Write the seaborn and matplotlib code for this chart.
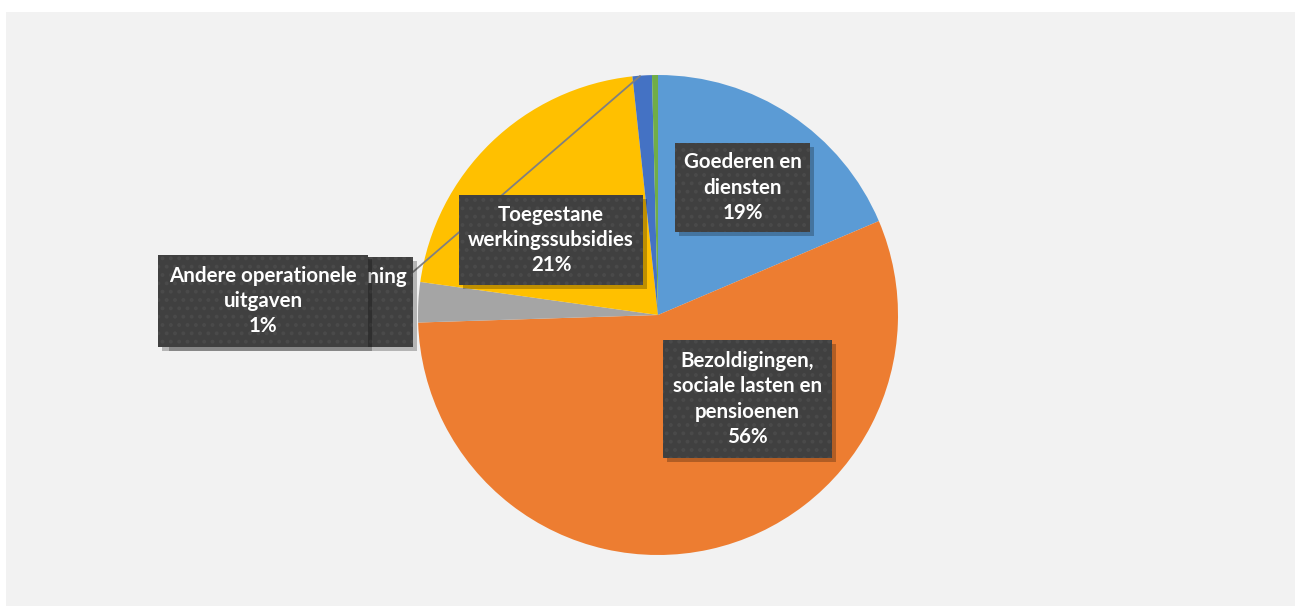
import matplotlib.pyplot as plt
import matplotlib.patches as mpatches
import seaborn as sns

sns.set_theme(style="white")
plt.rcParams['font.family'] = ['Lato', 'DejaVu Sans']
plt.rcParams['hatch.linewidth'] = 1.6

# slices, clockwise from 12 o'clock (percent)
categories = ["Goederen en diensten",
              "Bezoldigingen, sociale lasten en pensioenen",
              "Uitgaven voor rekening van derden",
              "Toegestane werkingssubsidies",
              "Andere operationele uitgaven",
              "Overige"]
values = [18.6, 55.9, 2.7, 21.1, 1.3, 0.4]
colors = ["#5B9BD5", "#ED7D31", "#A5A5A5", "#FFC000", "#4472C4", "#70AD47"]

# label text as it is wrapped in the boxes
label_lines = {
    0: "Goederen en\ndiensten",
    1: "Bezoldigingen,\nsociale lasten en\npensioenen",
    3: "Toegestane\nwerkingssubsidies",
    4: "Andere operationele\nuitgaven",
}

W, H = 1301, 612
fig = plt.figure(figsize=(W / 100, H / 100), dpi=100)
fig.patch.set_facecolor("white")
ax = fig.add_axes([0, 0, 1, 1])


def py(y):
    # pixel row (from top) -> data y
    return H - y


# chart area background
ax.add_patch(mpatches.Rectangle((6, py(606)), 1289, 594, facecolor="#F2F2F2",
                                edgecolor="none", zorder=0))

ax.pie(values, colors=colors, startangle=90, counterclock=False,
       center=(658, py(315)), radius=240, frame=True,
       wedgeprops=dict(linewidth=0))
ax.set_xlim(0, W)
ax.set_ylim(0, H)
ax.set_aspect("equal")
ax.axis("off")


def label_box(x0, y0, x1, y1, text, z, tx=None, ha="center"):
    # shadow
    ax.add_patch(mpatches.Rectangle((x0 + 4, py(y1) - 4), x1 - x0, y1 - y0,
                                    facecolor="black", alpha=0.25,
                                    edgecolor="none", zorder=z))
    ax.add_patch(mpatches.Rectangle((x0, py(y1)), x1 - x0, y1 - y0,
                                    facecolor="#404040", edgecolor="#4a4a4a",
                                    hatch="..", linewidth=0, zorder=z + 0.1))
    if tx is None:
        tx = (x0 + x1) / 2
    ax.text(tx, py((y0 + y1) / 2), text, ha=ha, va="center",
            multialignment="center", color="white", fontsize=14.8,
            fontweight="bold", linespacing=1.32, zorder=z + 0.2)


def pct(i):
    return f"{round(values[i])}%"


# hidden label behind "Andere operationele uitgaven" with leader line
ax.plot([413, 640], [py(272), py(76)], color="#808080", lw=1.3, zorder=4)
label_box(165, 257, 413, 347, "Uitgaven voor rekening\nvan derden\n" + pct(2),
          5, tx=407, ha="right")
label_box(158, 255, 368, 347, label_lines[4] + "\n" + pct(4), 6)

label_box(675, 143, 810, 232, label_lines[0] + "\n" + pct(0), 6)
label_box(663, 340, 832, 458, label_lines[1] + "\n" + pct(1), 6)
label_box(459, 195, 643, 285, label_lines[3] + "\n" + pct(3), 6)

fig.savefig("out.png", dpi=100, facecolor=fig.get_facecolor())
